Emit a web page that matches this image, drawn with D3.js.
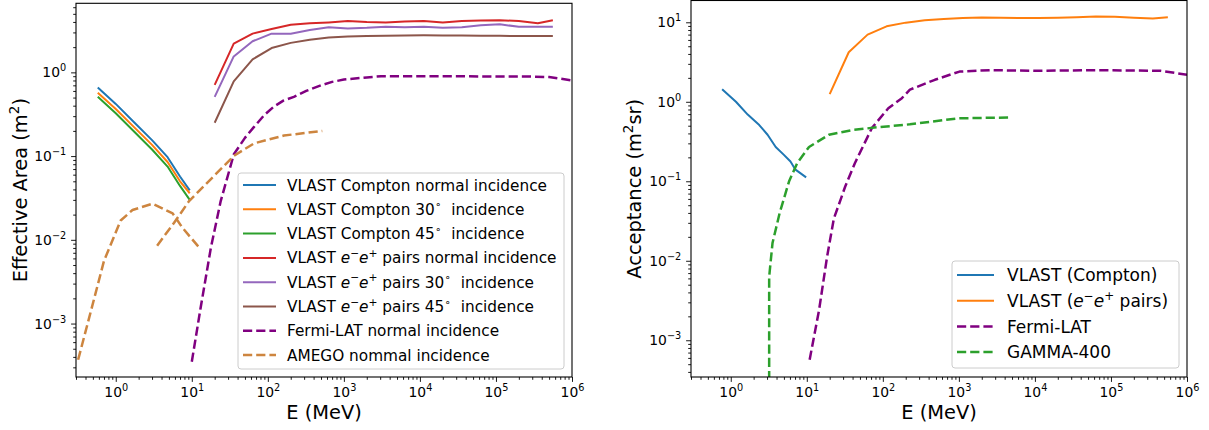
<!DOCTYPE html>
<html>
<head>
<meta charset="utf-8">
<script src="https://cdn.jsdelivr.net/npm/d3@7"></script>
<style>
  body { margin: 0; background: #fff; }
  svg { font-family: "DejaVu Sans", sans-serif; }
  text { white-space: pre; }
</style>
</head>
<body>
<script>
// ---- data ----

// left panel: effective area (m^2)
var comptonE = [0.58, 1, 1.74, 3, 4.8, 7, 9.4];
var comptonNormal = [0.66, 0.42, 0.254, 0.155, 0.097, 0.057, 0.039];
var compton30 = [0.57, 0.365, 0.222, 0.136, 0.085, 0.05, 0.036];
var compton45 = [0.51, 0.325, 0.197, 0.12, 0.075, 0.044, 0.030];

var pairsE = [20, 35.6, 63, 112, 200, 356, 632, 1125, 2000, 3557, 6325, 11247,
              20000, 35566, 63246, 112468, 200000, 355656, 560000];
var pairsNormal = [0.71, 2.2, 2.9, 3.3, 3.7, 3.85, 3.95, 4.1, 4.0, 3.95, 4.05, 4.1,
                   3.95, 4.1, 4.15, 4.2, 4.1, 3.85, 4.2];
var pairs30 = [0.51, 1.55, 2.35, 2.9, 2.9, 3.2, 3.45, 3.35, 3.4, 3.5, 3.45, 3.5,
               3.4, 3.45, 3.65, 3.75, 3.5, 3.5, 3.5];
var pairs45 = [0.25, 0.78, 1.43, 1.95, 2.25, 2.45, 2.6, 2.68, 2.72, 2.74, 2.76, 2.77,
               2.76, 2.75, 2.74, 2.73, 2.72, 2.72, 2.72];

var fermiAreaE = [10, 13, 17.8, 24, 35.7, 50, 65, 90, 120, 160, 220, 320, 500, 700,
                  1000, 2000, 3100, 10000, 30000, 100000, 300000, 500000, 1000000];
var fermiArea = [3.5e-4, 1.5e-3, 8e-3, 0.029, 0.105, 0.165, 0.22, 0.31, 0.39, 0.46, 0.51,
                 0.6, 0.70, 0.77, 0.82, 0.87, 0.90, 0.90, 0.90, 0.89, 0.89, 0.88, 0.80];

var amegoLowE = [0.32, 0.45, 0.70, 1.16, 1.66, 3.04, 5.6, 7.5, 13.1];
var amegoLow = [3.7e-4, 1.2e-3, 5.6e-3, 0.017, 0.0227, 0.027, 0.0207, 0.014, 7.7e-3];
var amegoHighE = [3.5, 5.85, 9.2, 19.6, 35.9, 66, 163, 520];
var amegoHigh = [8.5e-3, 0.016, 0.029, 0.058, 0.101, 0.142, 0.176, 0.2];

// right panel: acceptance (m^2 sr)
var accComptonE = [0.77, 1.17, 1.67, 2.37, 3.05, 3.9, 5, 6.1, 7.1, 9.8];
var accCompton = [1.44, 1.0, 0.69, 0.51, 0.385, 0.27, 0.215, 0.177, 0.14, 0.112];

var accPairs = [1.25, 4.2, 7.0, 8.9, 9.9, 10.6, 11.0, 11.3, 11.5, 11.4, 11.3, 11.3,
                11.4, 11.6, 11.8, 11.7, 11.4, 11.2, 11.6];

var accFermiE = [10.9, 14.5, 18.5, 22.7, 27.7, 32, 43, 72, 118, 178, 227, 483, 1020,
                 2640, 10000, 66000, 450000, 1000000];
var accFermi = [5.7e-4, 2.4e-3, 0.0113, 0.034, 0.058, 0.086, 0.17, 0.47, 0.83, 1.11,
                1.42, 1.89, 2.4, 2.5, 2.45, 2.5, 2.45, 2.19];

var gammaE = [3.2, 3.2, 3.54, 4.4, 5.85, 7.5, 10.7, 19.5, 39, 88, 227, 980, 4850];
var gamma400 = [1e-4, 6.3e-3, 0.0167, 0.04, 0.1, 0.17, 0.27, 0.385, 0.44, 0.48, 0.52, 0.62, 0.635];

var xTicks = [1, 10, 100, 1e3, 1e4, 1e5, 1e6];
var areaTicks = [1e-3, 1e-2, 1e-1, 1];
var accTicks = [1e-3, 1e-2, 1e-1, 1, 10];

// ---- drawing ----
var svg = d3.select("body").append("svg")
  .attr("width", 1209)
  .attr("height", 430);

var tickFont = 13.9;
var labelFont = 19.4;
var solidW = 2.0, dashW = 2.5, dash = "9.2,4";

// write text made of parts: [text, ""|"i"|"s"]
function richText(sel, parts, size) {
  var shift = 0;
  parts.forEach(function(p) {
    var t = sel.append("tspan").text(p[0]);
    if (p[1] === "i") t.attr("font-style", "italic");
    if (p[1] === "s") {
      t.attr("font-size", size * 0.7).attr("dy", -size * 0.42 - shift);
      shift = -size * 0.42;
    } else if (shift !== 0) {
      t.attr("dy", -shift);
      shift = 0;
    }
  });
}

function minorTicks(domain) {
  var out = [];
  for (var p = -5; p <= 6; p++) {
    for (var k = 2; k <= 9; k++) {
      var v = k * Math.pow(10, p);
      if (v >= domain[0] && v <= domain[1]) out.push(v);
    }
  }
  return out;
}

function powLabel(sel) {
  sel.each(function(d) {
    var t = d3.select(this);
    var e = Math.round(Math.log10(d));
    t.text(null);
    richText(t, [["10", ""], [e < 0 ? "\u2212" + (-e) : String(e), "s"]], tickFont);
  });
}

function panel(opt) {
  var x = d3.scaleLog().domain(opt.xDomain).range([opt.left, opt.right]);
  var y = d3.scaleLog().domain(opt.yDomain).range([opt.bottom, opt.top]);

  svg.append("clipPath").attr("id", opt.id)
    .append("rect")
    .attr("x", opt.left).attr("y", opt.top)
    .attr("width", opt.right - opt.left).attr("height", opt.bottom - opt.top);

  var plot = svg.append("g").attr("clip-path", "url(#" + opt.id + ")");
  var line = d3.line().x(function(d) { return x(d[0]); }).y(function(d) { return y(d[1]); });

  opt.series.forEach(function(s) {
    s.parts.forEach(function(pt) {
      plot.append("path")
        .datum(d3.zip(pt[0], pt[1]))
        .attr("d", line)
        .attr("fill", "none")
        .attr("stroke", s.color)
        .attr("stroke-width", s.dashed ? dashW : solidW)
        .attr("stroke-dasharray", s.dashed ? dash : null)
        .attr("stroke-linejoin", "round");
    });
  });

  // axes
  var xMajor = svg.append("g").attr("transform", "translate(0," + opt.bottom + ")")
    .call(d3.axisBottom(x).tickValues(xTicks).tickSize(4.9).tickPadding(4.9).tickSizeOuter(0));
  xMajor.selectAll("text").call(powLabel);
  svg.append("g").attr("transform", "translate(0," + opt.bottom + ")")
    .call(d3.axisBottom(x).tickValues(minorTicks(opt.xDomain)).tickSize(2.8).tickFormat("").tickSizeOuter(0));

  var yMajor = svg.append("g").attr("transform", "translate(" + opt.left + ",0)")
    .call(d3.axisLeft(y).tickValues(opt.yTicks).tickSize(4.9).tickPadding(4.9).tickSizeOuter(0));
  yMajor.selectAll("text").call(powLabel);
  svg.append("g").attr("transform", "translate(" + opt.left + ",0)")
    .call(d3.axisLeft(y).tickValues(minorTicks(opt.yDomain)).tickSize(2.8).tickFormat("").tickSizeOuter(0));

  svg.selectAll(".domain").remove();
  svg.selectAll(".tick line").attr("stroke", "#000").attr("stroke-width", 0.9);
  svg.selectAll(".tick text").attr("font-size", tickFont).attr("fill", "#000")
    .attr("font-family", "DejaVu Sans");

  svg.append("rect")
    .attr("x", opt.left).attr("y", opt.top)
    .attr("width", opt.right - opt.left).attr("height", opt.bottom - opt.top)
    .attr("fill", "none").attr("stroke", "#000").attr("stroke-width", 1.1);

  // axis labels
  var xl = svg.append("text")
    .attr("x", (opt.left + opt.right) / 2).attr("y", 419)
    .attr("text-anchor", "middle").attr("font-size", labelFont);
  richText(xl, [["E (MeV)", ""]], labelFont);

  var yl = svg.append("text")
    .attr("transform", "translate(" + opt.yLabelX + "," + (opt.top + opt.bottom) / 2 + ") rotate(-90)")
    .attr("text-anchor", "middle").attr("font-size", labelFont);
  richText(yl, opt.yLabel, labelFont);

  // legend
  var lg = opt.legend;
  var box = svg.append("g");
  box.append("rect")
    .attr("x", lg.x).attr("y", lg.y).attr("width", lg.w).attr("height", lg.h)
    .attr("rx", 3).attr("fill", "#fff").attr("fill-opacity", 0.8)
    .attr("stroke", "#cccccc").attr("stroke-width", 1);
  opt.series.forEach(function(s, i) {
    var cy = lg.row0 + i * lg.step;
    box.append("line")
      .attr("x1", lg.x + 5).attr("x2", lg.x + 5 + lg.handle)
      .attr("y1", cy).attr("y2", cy)
      .attr("stroke", s.color)
      .attr("stroke-width", s.dashed ? dashW : solidW)
      .attr("stroke-dasharray", s.dashed ? dash : null);
    var t = box.append("text")
      .attr("x", lg.textX).attr("y", cy + lg.font * 0.36)
      .attr("font-size", lg.font);
    richText(t, s.label, lg.font);
  });
}

var eePairs = [["VLAST ", ""], ["e", "i"], ["\u2212", "s"], ["e", "i"], ["+", "s"]];

panel({
  id: "clipA",
  left: 76, right: 572, top: 3.3, bottom: 377,
  xDomain: [0.3, 1e6], yDomain: [2.3e-4, 6.68],
  yTicks: areaTicks,
  yLabelX: 27,
  yLabel: [["Effective Area (m", ""], ["2", "s"], [")", ""]],
  legend: { x: 238, y: 173, w: 326, h: 196, row0: 185, step: 24.3, handle: 33, textX: 287, font: 15.3 },
  series: [
    { color: "#1f77b4", parts: [[comptonE, comptonNormal]],
      label: [["VLAST Compton normal incidence", ""]] },
    { color: "#ff7f0e", parts: [[comptonE, compton30]],
      label: [["VLAST Compton 30", ""], ["\u2218", "s"], ["  incidence", ""]] },
    { color: "#2ca02c", parts: [[comptonE, compton45]],
      label: [["VLAST Compton 45", ""], ["\u2218", "s"], ["  incidence", ""]] },
    { color: "#d62728", parts: [[pairsE, pairsNormal]],
      label: eePairs.concat([[" pairs normal incidence", ""]]) },
    { color: "#9467bd", parts: [[pairsE, pairs30]],
      label: eePairs.concat([[" pairs 30", ""], ["\u2218", "s"], ["  incidence", ""]]) },
    { color: "#8c564b", parts: [[pairsE, pairs45]],
      label: eePairs.concat([[" pairs 45", ""], ["\u2218", "s"], ["  incidence", ""]]) },
    { color: "#800080", dashed: true, parts: [[fermiAreaE, fermiArea]],
      label: [["Fermi-LAT normal incidence", ""]] },
    { color: "#cd853f", dashed: true, parts: [[amegoLowE, amegoLow], [amegoHighE, amegoHigh]],
      label: [["AMEGO nommal incidence", ""]] }
  ]
});

panel({
  id: "clipB",
  left: 691, right: 1187, top: 0.5, bottom: 377,
  xDomain: [0.3, 1e6], yDomain: [3.45e-4, 18.8],
  yTicks: accTicks,
  yLabelX: 641,
  yLabel: [["Acceptance (m", ""], ["2", "s"], ["sr)", ""]],
  legend: { x: 952, y: 261, w: 227, h: 107, row0: 275, step: 25.7, handle: 37, textX: 1007, font: 17 },
  series: [
    { color: "#1f77b4", parts: [[accComptonE, accCompton]],
      label: [["VLAST (Compton)", ""]] },
    { color: "#ff7f0e", parts: [[pairsE, accPairs]],
      label: [["VLAST (", ""], ["e", "i"], ["\u2212", "s"], ["e", "i"], ["+", "s"], [" pairs)", ""]] },
    { color: "#800080", dashed: true, parts: [[accFermiE, accFermi]],
      label: [["Fermi-LAT", ""]] },
    { color: "#2ca02c", dashed: true, parts: [[gammaE, gamma400]],
      label: [["GAMMA-400", ""]] }
  ]
});
</script>
</body>
</html>
